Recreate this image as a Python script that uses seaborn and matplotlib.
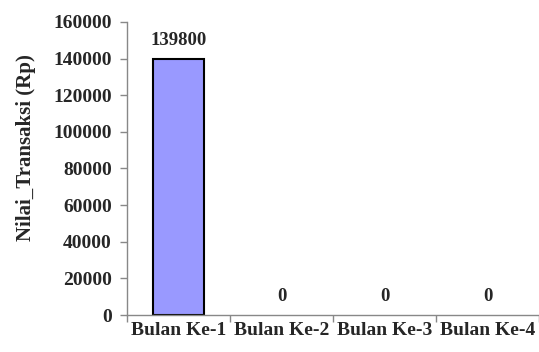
import matplotlib
matplotlib.use("Agg")
import matplotlib.pyplot as plt
import seaborn as sns
import pandas as pd

bulan = ["Bulan Ke-1", "Bulan Ke-2", "Bulan Ke-3", "Bulan Ke-4"]
nilai = [139800, 0, 0, 0]
y_ticks = [0, 20000, 40000, 60000, 80000, 100000, 120000, 140000, 160000]

sns.set_style("white")
plt.rcParams['font.family'] = ['Liberation Serif', 'DejaVu Serif']
plt.rcParams['font.weight'] = 'bold'

df = pd.DataFrame({"Bulan": bulan, "Nilai": nilai})

fig = plt.figure(figsize=(5.39, 3.52), dpi=100)
ax = fig.add_axes([127 / 539, 37 / 352, 412 / 539, 293 / 352])

sns.barplot(data=df, x="Bulan", y="Nilai", color="#9999FF", width=0.5,
            edgecolor="black", linewidth=1.5, saturation=1, ax=ax)

# bars of zero height should not show an outline
for p, v in zip(ax.patches, nilai):
    if v == 0:
        p.set_linewidth(0)

ax.set_ylim(0, 160000)
ax.set_xlim(-0.5, 412 / 104 - 0.5)
ax.set_yticks(y_ticks)
ax.set_yticklabels([str(v) for v in y_ticks])

# category labels at centres, tick marks between categories
ax.set_xticks(range(len(bulan)), minor=True)
ax.set_xticklabels(bulan, minor=True)
ax.set_xticks([i - 0.5 for i in range(len(bulan) + 1)])
ax.set_xticklabels([])
ax.tick_params(axis='x', which='minor', bottom=True, length=0, pad=5,
               labelsize=14)
ax.tick_params(axis='x', which='major', bottom=True, length=5, width=1,
               color='#888888', direction='out')
ax.tick_params(axis='y', left=True, length=5, width=1, color='#888888',
               direction='out', pad=6, labelsize=14)

ax.set_xlabel("")
ax.set_ylabel("Nilai_Transaksi (Rp)", fontsize=15, fontweight='bold')
ax.yaxis.set_label_coords(-0.222, 0.57)

for s in ['top', 'right']:
    ax.spines[s].set_visible(False)
for s in ['left', 'bottom']:
    ax.spines[s].set_color('#888888')
    ax.spines[s].set_linewidth(1)

for i, v in enumerate(nilai):
    ax.annotate(str(v), (i, v), xytext=(0, 7), textcoords='offset points',
                ha='center', va='bottom', fontsize=13.5, fontweight='bold')

fig.savefig("out.png", dpi=100)
